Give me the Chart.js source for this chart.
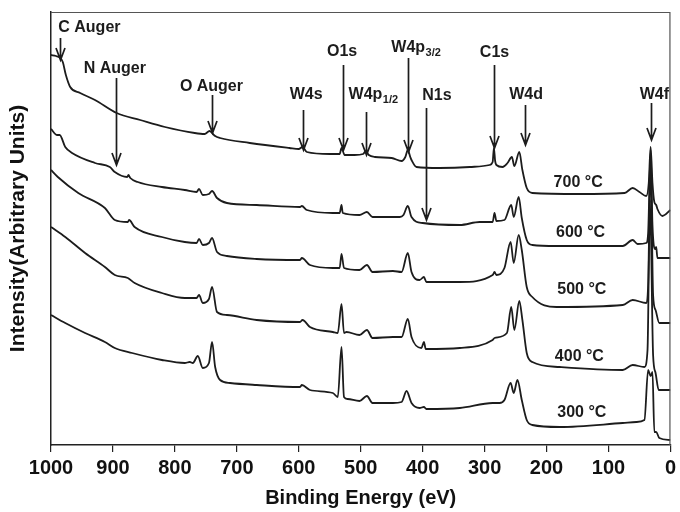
<!DOCTYPE html>
<html>
<head>
<meta charset="utf-8">
<script src="https://cdn.jsdelivr.net/npm/chart.js@4/dist/chart.umd.min.js"></script>
<style>
  html, body { margin: 0; padding: 0; background: #fff; }
</style>
</head>
<body>
<canvas id="xps" width="680" height="512"></canvas>
<script>
// XPS survey spectra, stacked. [binding energy (eV), intensity (arb. units)]
const s700 = [[1000,390],[992,389],[985,387],[981,383],[976,370],[969,358],[953,352],[929,345],[894,332],[856,325],[816,318],[768,312],[752,311],[744,314],[740,312],[735,309],[727,307],[679,302],[615,297],[600,296],[594,298],[587,293],[550,291],[534,291],[531,297],[526,290],[510,290],[496,291],[492,294],[487,290],[477,288],[450,287],[434,284],[428,288],[424,295],[420,288],[418,285],[410,278],[373,277],[324,278],[292,280],[287,283],[285,297],[283,284],[281,280],[271,278],[263,282],[256,288],[252,279],[244,293],[239,275],[232,257],[223,252],[147,251],[74,252],[61,257],[50,253],[39,249],[35,262],[32,298],[29,262],[26,243],[23,240],[21,236],[13,229],[0,235]];
const s600 = [[1000,316],[990,310],[986,310],[977,298],[966,292],[929,282],[905,278],[897,273],[877,268],[875,270],[872,267],[860,263],[821,258],[784,255],[765,253],[761,256],[755,250],[745,251],[740,254],[732,247],[716,242],[668,240],[598,238],[595,239],[587,235],[545,232],[534,232],[531,240],[529,232],[502,230],[490,233],[481,228],[437,228],[431,230],[424,239],[418,228],[400,222],[340,220],[308,223],[287,223],[284,232],[281,224],[268,225],[257,240],[253,228],[245,248],[240,227],[232,205],[223,200],[184,199],[77,199],[61,205],[53,201],[39,202],[36,212],[32,295],[29,220],[25,196],[23,198],[21,187],[0,187]];
const s500 = [[1000,275],[989,268],[956,252],[913,237],[897,225],[876,223],[874,225],[865,218],[821,208],[784,203],[765,202],[761,206],[755,200],[745,202],[740,207],[732,193],[716,189],[668,186],[598,185],[595,187],[582,180],[545,177],[534,177],[531,191],[527,177],[502,175],[490,180],[481,173],[448,174],[434,173],[424,192],[418,173],[405,165],[398,168],[394,163],[340,163],[287,170],[284,173],[281,170],[268,177],[258,203],[253,182],[245,210],[240,195],[232,158],[223,148],[184,138],[77,140],[61,145],[39,142],[36,160],[32,285],[28,150],[24,135],[18,122],[0,122]];
const s400 = [[1000,218],[977,208],[945,192],[913,178],[897,170],[876,167],[865,162],[821,152],[784,147],[765,147],[761,150],[755,142],[745,146],[740,158],[732,133],[716,130],[668,125],[598,123],[594,125],[582,118],[545,113],[537,112],[531,141],[527,112],[523,113],[502,110],[490,115],[481,107],[448,108],[434,108],[424,126],[418,108],[402,97],[398,103],[395,96],[340,97],[287,105],[284,107],[264,112],[257,138],[252,115],[244,144],[239,125],[232,92],[223,83],[179,78],[77,75],[61,80],[42,78],[37,95],[33,245],[28,90],[24,72],[19,55],[0,55]];
const s300 = [[1000,130],[977,122],[945,112],[913,103],[897,97],[869,92],[821,85],[784,82],[776,83],[771,82],[763,89],[755,77],[745,82],[740,103],[735,78],[727,65],[711,62],[668,60],[598,58],[595,60],[582,55],[545,52],[537,48],[531,98],[527,48],[521,46],[502,44],[490,49],[481,42],[448,42],[434,43],[426,54],[418,42],[405,37],[398,38],[394,36],[340,37],[287,42],[276,42],[268,45],[258,62],[253,52],[247,65],[240,45],[232,25],[223,20],[179,18],[77,22],[55,23],[42,25],[36,75],[32,69],[29,73],[26,13],[23,13],[18,7],[0,5]];

const series = [s700, s600, s500, s400, s300];
const temps = ["700 °C", "600 °C", "500 °C", "400 °C", "300 °C"];
// where each temperature label sits [eV, intensity]
const tempAt = [[149,262],[145,212],[143,155],[147,88],[143,32]];

// peak labels: text, subscript, centre eV, intensity
const peakLabels = [
  ["C Auger", "", 938, 417],
  ["N Auger", "", 897, 376],
  ["O Auger", "", 741, 358],
  ["W4s", "", 588, 350],
  ["O1s", "", 530, 393],
  ["W4p", "1/2", 480, 350],
  ["W4p", "3/2", 411, 397],
  ["N1s", "", 377, 349],
  ["C1s", "", 284, 392],
  ["W4d", "", 233, 350],
  ["W4f", "", 26, 350]
];
// arrows: eV, from intensity, to intensity (tip)
const peakArrows = [
  [985, 407, 385], [895, 367, 280], [740, 350, 312], [593, 335, 295],
  [529, 380, 295], [492, 333, 290], [423, 387, 293], [395, 337, 225],
  [285, 380, 297], [235, 340, 300], [32, 342, 305]
];

const ink = "#1c1c1c";

const decor = {
  id: "decor",
  afterDatasetsDraw(chart) {
    const { ctx, chartArea: a, scales: { x, y } } = chart;
    ctx.save();
    // top and right frame
    ctx.strokeStyle = "#555";
    ctx.lineWidth = 1.2;
    ctx.beginPath();
    ctx.moveTo(a.left, a.top + 0.5);
    ctx.lineTo(a.right - 0.5, a.top + 0.5);
    ctx.lineTo(a.right - 0.5, a.bottom);
    ctx.stroke();

    // arrows
    ctx.strokeStyle = ink;
    ctx.lineWidth = 1.7;
    peakArrows.forEach(([ev, from, to]) => {
      const px = Math.round(x.getPixelForValue(ev)) + 0.5;
      const y0 = y.getPixelForValue(from), y1 = y.getPixelForValue(to);
      ctx.beginPath();
      ctx.moveTo(px, y0);
      ctx.lineTo(px, y1);
      ctx.moveTo(px - 4.5, y1 - 12);
      ctx.lineTo(px, y1);
      ctx.lineTo(px + 4.5, y1 - 12);
      ctx.stroke();
    });

    // peak labels
    ctx.fillStyle = ink;
    ctx.textBaseline = "middle";
    ctx.textAlign = "left";
    const big = "bold 16px Arial", small = "bold 11px Arial";
    peakLabels.forEach(([txt, sub, ev, v]) => {
      ctx.font = big;
      const w1 = ctx.measureText(txt).width;
      ctx.font = small;
      const w2 = sub ? ctx.measureText(sub).width : 0;
      const left = x.getPixelForValue(ev) - (w1 + w2) / 2;
      const cy = y.getPixelForValue(v);
      ctx.font = big;
      ctx.fillText(txt, left, cy);
      if (sub) {
        ctx.font = small;
        ctx.fillText(sub, left + w1 + 0.5, cy + 5);
      }
    });

    // temperature labels
    ctx.font = "bold 16px Arial";
    ctx.textAlign = "center";
    temps.forEach((t, i) => {
      ctx.fillText(t, x.getPixelForValue(tempAt[i][0]), y.getPixelForValue(tempAt[i][1]));
    });
    ctx.restore();
  }
};

new Chart(document.getElementById("xps"), {
  type: "line",
  data: {
    datasets: series.map((s, i) => ({
      label: temps[i],
      // ascending eV so the monotone spline behaves
      data: s.map(([e, v]) => ({ x: e, y: v })).sort((p, q) => p.x - q.x),
      borderColor: ink,
      borderWidth: 1.8,
      pointRadius: 0,
      cubicInterpolationMode: "monotone",
      fill: false
    }))
  },
  options: {
    responsive: false,
    animation: false,
    devicePixelRatio: 1,
    layout: { padding: { top: 12, right: 8, left: 0, bottom: 0 } },
    plugins: { legend: { display: false }, tooltip: { enabled: false } },
    scales: {
      x: {
        type: "linear",
        reverse: true,
        min: 0,
        max: 1000,
        afterFit: s => { s.height = 67; },
        ticks: { stepSize: 100, maxRotation: 0, autoSkip: false, padding: 4, color: "#111",
                 font: { family: "Arial", size: 20, weight: "bold" }, callback: v => String(v) },
        grid: { drawOnChartArea: false, drawTicks: true, tickLength: 7, color: "#222", lineWidth: 1.2 },
        border: { display: true, color: "#222", width: 1.5 },
        title: { display: true, text: "Binding Energy (eV)", color: "#111", font: { family: "Arial", size: 20, weight: "bold" }, padding: { top: 0, bottom: 2 } }
      },
      y: {
        min: 0,
        max: 433,
        afterFit: s => { s.width = 51; },
        ticks: { display: false },
        grid: { display: false },
        border: { display: true, color: "#222", width: 1.5 },
        title: { display: true, text: "Intensity(Arbitrary Units)", color: "#111", font: { family: "Arial", size: 21, weight: "bold" }, padding: { top: 6, bottom: 0 } }
      }
    }
  },
  plugins: [decor]
});
</script>
</body>
</html>
